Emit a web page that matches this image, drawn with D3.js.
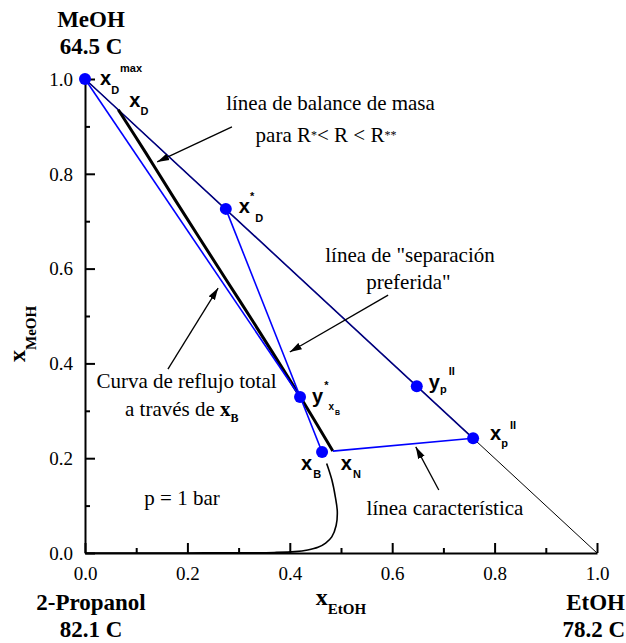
<!DOCTYPE html>
<html>
<head>
<meta charset="utf-8">
<script src="https://cdn.jsdelivr.net/npm/d3@7"></script>
<style>
  body { margin: 0; background: #fff; }
  svg { display: block; }
</style>
</head>
<body>
<svg id="chart" width="626" height="643"></svg>
<script>
// ---- axis ticks ----
const majorTicks = [0, 0.2, 0.4, 0.6, 0.8, 1.0];
const minorTicks = [0.1, 0.3, 0.5, 0.7, 0.9];
const tickLabels = ["0.0", "0.2", "0.4", "0.6", "0.8", "1.0"];

// ---- key compositions (x = x_EtOH, y = x_MeOH) ----
const pointNames = ["xDmax", "xD", "xDstar", "yxBstar", "xB", "xN", "ypII", "xpII"];
const pointX     = [0.000,   0.065, 0.275,   0.420,     0.463, 0.484, 0.648,  0.758];
const pointY     = [1.000,   0.935, 0.726,   0.329,     0.213, 0.215, 0.352,  0.242];
const dotNames   = ["xDmax", "xDstar", "yxBstar", "xB", "ypII", "xpII"];

// ---- straight segments between compositions ----
const navySegments = [["xDmax", "xpII"]];
const blueSegments = [["xDmax", "yxBstar"], ["xDstar", "xB"], ["xN", "xpII"]];

// ---- MeOH–EtOH edge of the triangle ----
const edgeX = [0, 1];
const edgeY = [1, 0];

// ---- total reflux curve through xB ----
const refluxX = [0.065, 0.120, 0.176, 0.276, 0.326, 0.420, 0.484];
const refluxY = [0.935, 0.842, 0.745, 0.576, 0.492, 0.330, 0.215];

// ---- residue curve running into the 2-Propanol corner ----
const residueX = [0.472, 0.482, 0.489, 0.4928, 0.4905, 0.482, 0.470, 0.455, 0.435, 0.410, 0.370, 0.300, 0.200, 0.100, 0.000];
const residueY = [0.189, 0.155, 0.118, 0.087, 0.058, 0.034, 0.021, 0.012, 0.0065, 0.003, 0.0012, 0.0004, 0.0001, 0.0, 0.0];

// ---- pure components ----
const vertexNames = ["MeOH", "2-Propanol", "EtOH"];
const vertexTemps = ["64.5 C", "82.1 C", "78.2 C"];

// ---- annotation arrows: [x0, y0, x1, y1] in composition units ----
const arrowBalance    = [0.287, 0.899, 0.141, 0.825];
const arrowPreferred  = [0.592, 0.544, 0.400, 0.424];
const arrowReflux     = [0.162, 0.388, 0.260, 0.559];
const arrowCharacter  = [0.691, 0.133, 0.646, 0.224];

// ---------------------------------------------------------------
const svg = d3.select("#chart");
const x = d3.scaleLinear().domain([0, 1]).range([85, 597]);
const y = d3.scaleLinear().domain([0, 1]).range([553, 79]);

const SERIF = "'Liberation Serif', 'Times New Roman', Times, serif";
const SANS = "'Liberation Sans', Arial, Helvetica, sans-serif";
const BLUE = "#0000ff";
const NAVY = "#000080";

const P = {};
pointNames.forEach((n, i) => { P[n] = [pointX[i], pointY[i]]; });

svg.append("defs").append("marker")
  .attr("id", "head")
  .attr("markerUnits", "userSpaceOnUse")
  .attr("viewBox", "0 -4 12 8")
  .attr("refX", 12).attr("refY", 0)
  .attr("markerWidth", 12).attr("markerHeight", 8)
  .attr("orient", "auto")
  .append("path").attr("d", "M0,-3.6L12,0L0,3.6Z").attr("fill", "#000");

// ---- axes ----
const fmt = d => tickLabels[majorTicks.indexOf(d)];

const yAxis = svg.append("g").attr("transform", `translate(${x(0)},0)`)
  .call(d3.axisLeft(y).tickValues(majorTicks).tickFormat(fmt)
    .tickSizeInner(-10).tickSizeOuter(0).tickPadding(12));
const yMinor = svg.append("g").attr("transform", `translate(${x(0)},0)`)
  .call(d3.axisLeft(y).tickValues(minorTicks).tickFormat("")
    .tickSizeInner(-5).tickSizeOuter(0));

const xAxis = svg.append("g").attr("transform", `translate(0,${y(0)})`)
  .call(d3.axisBottom(x).tickValues(majorTicks).tickFormat(fmt)
    .tickSizeInner(-10).tickSizeOuter(0).tickPadding(14));
const xMinor = svg.append("g").attr("transform", `translate(0,${y(0)})`)
  .call(d3.axisBottom(x).tickValues(minorTicks).tickFormat("")
    .tickSizeInner(-5).tickSizeOuter(0));

[yAxis, yMinor, xAxis, xMinor].forEach(g => {
  g.attr("font-family", null).attr("font-size", null);
  g.select(".domain").attr("stroke", "#000").attr("stroke-width", 2);
  g.selectAll(".tick line").attr("stroke", "#000").attr("stroke-width", 2);
  g.selectAll(".tick text").attr("fill", "#000")
    .style("font-family", SERIF).style("font-size", "19px");
});
yMinor.select(".domain").remove();
xMinor.select(".domain").remove();
yAxis.selectAll(".tick text").attr("dy", "0.33em");
xAxis.selectAll(".tick text").attr("dy", "0.71em");

// ---- axis titles ----
const xTitle = svg.append("text")
  .attr("x", x(0.5)).attr("y", 605).attr("text-anchor", "middle")
  .style("font-family", SERIF).style("font-weight", "bold");
xTitle.append("tspan").style("font-size", "24px").text("x");
xTitle.append("tspan").style("font-size", "15px").attr("dy", 9).text("EtOH");

const yTitle = svg.append("text")
  .attr("transform", "translate(25,362) rotate(-90)")
  .style("font-family", SERIF).style("font-weight", "bold");
yTitle.append("tspan").style("font-size", "24px").text("x");
yTitle.append("tspan").style("font-size", "15px").attr("dy", 11).text("MeOH");

// ---- line marks ----
const zip = (a, b) => a.map((v, i) => [v, b[i]]);
const straight = d3.line().x(d => x(d[0])).y(d => y(d[1]));
const smooth = d3.line().x(d => x(d[0])).y(d => y(d[1])).curve(d3.curveCatmullRom);

svg.append("path").datum(zip(edgeX, edgeY)).attr("d", straight)
  .attr("fill", "none").attr("stroke", "#000").attr("stroke-width", 1);

svg.append("path").datum(zip(residueX, residueY)).attr("d", smooth)
  .attr("fill", "none").attr("stroke", "#000").attr("stroke-width", 1.6);

navySegments.forEach(s => {
  svg.append("path").datum(s.map(n => P[n])).attr("d", straight)
    .attr("fill", "none").attr("stroke", NAVY).attr("stroke-width", 1.6);
});

svg.append("path").datum(zip(refluxX, refluxY)).attr("d", smooth)
  .attr("fill", "none").attr("stroke", "#000").attr("stroke-width", 3);

blueSegments.forEach(s => {
  svg.append("path").datum(s.map(n => P[n])).attr("d", straight)
    .attr("fill", "none").attr("stroke", BLUE).attr("stroke-width", 1.6);
});

// ---- composition dots ----
svg.append("g").selectAll("circle").data(dotNames).join("circle")
  .attr("cx", n => x(P[n][0])).attr("cy", n => y(P[n][1]))
  .attr("r", 6).attr("fill", BLUE);

// ---- composition labels: main glyph, then sub/superscripts ----
const pointLabels = {
  xDmax:   { dx: 15,  dy: 6,   parts: [["x", 20, 0, 0], ["D", 11, 9, 0], ["max", 11, -22, 1]] },
  xD:      { dx: 11,  dy: -3,  parts: [["x", 20, 0, 0], ["D", 11, 8, 0]] },
  xDstar:  { dx: 13,  dy: 4,   parts: [["x", 20, 0, 0], ["*", 11, -13, 0], ["D", 11, 22, 1]] },
  yxBstar: { dx: 12,  dy: 6,   parts: [["y", 20, 0, 0], ["*", 11, -14, 1], ["x", 10, 21, 0], ["B", 7, 5, 1]] },
  xB:      { dx: -21, dy: 18,  parts: [["x", 20, 0, 0], ["B", 11, 8, 1]] },
  xN:      { dx: 8,   dy: 19,  parts: [["x", 20, 0, 0], ["N", 11, 8, 1]] },
  ypII:    { dx: 12,  dy: 3,   parts: [["y", 20, 0, 0], ["p", 11, 4, 0], ["II", 11, -18, 2]] },
  xpII:    { dx: 17,  dy: 1.5, parts: [["x", 20, 0, 0], ["p", 11, 7, 0], ["II", 11, -18, 2]] }
};
Object.entries(pointLabels).forEach(([n, spec]) => {
  const t = svg.append("text")
    .attr("x", x(P[n][0]) + spec.dx).attr("y", y(P[n][1]) + spec.dy)
    .style("font-family", SANS).style("font-weight", "bold").attr("fill", "#000");
  spec.parts.forEach(([txt, size, dy, dx]) => {
    t.append("tspan").style("font-size", size + "px").attr("dy", dy).attr("dx", dx).text(txt);
  });
});

// ---- arrows ----
[arrowBalance, arrowPreferred, arrowReflux, arrowCharacter].forEach(a => {
  svg.append("line")
    .attr("x1", x(a[0])).attr("y1", y(a[1]))
    .attr("x2", x(a[2])).attr("y2", y(a[3]))
    .attr("stroke", "#000").attr("stroke-width", 1.3)
    .attr("marker-end", "url(#head)");
});

// ---- annotation texts ----
function note(px, py, anchor) {
  return svg.append("text").attr("x", x(px)).attr("y", y(py))
    .attr("text-anchor", anchor)
    .style("font-family", SERIF).style("font-size", "21px").attr("fill", "#000");
}
note(0.4795, 0.9346, "middle").text("línea de balance de masa");
const t1b = note(0.4707, 0.8671, "middle");
t1b.append("tspan").text("para R");
t1b.append("tspan").style("font-size", "12px").attr("dy", -3).text("*");
t1b.append("tspan").attr("dy", 3).text("< R < R");
t1b.append("tspan").style("font-size", "12px").attr("dy", -3).text("**");

note(0.6348, 0.6139, "middle").text("línea de \"separación");
note(0.6318, 0.5570, "middle").text("preferida\"");

note(0.1982, 0.3481, "middle").text("Curva de reflujo total");
const t3b = note(0.0781, 0.2890, "start");
t3b.append("tspan").text("a través de ");
t3b.append("tspan").style("font-weight", "bold").text("x");
t3b.append("tspan").style("font-weight", "bold").style("font-size", "12px").attr("dy", 6).text("B");

note(0.1895, 0.1013, "middle").text("p = 1 bar");
note(0.7031, 0.0802, "middle").text("línea característica");

// ---- pure component names and boiling points ----
const vertexPos = [
  { x: x(0) + 6,  y: y(1) - 52, anchor: "middle" },
  { x: x(0) + 6,  y: y(0) + 57, anchor: "middle" },
  { x: 625,       y: y(0) + 57, anchor: "end" }
];
vertexNames.forEach((name, i) => {
  const v = vertexPos[i];
  const t = svg.append("text").attr("x", v.x).attr("y", v.y).attr("text-anchor", v.anchor)
    .style("font-family", SERIF).style("font-weight", "bold").style("font-size", "23px");
  t.append("tspan").attr("x", v.x).text(name);
  t.append("tspan").attr("x", v.x).attr("dy", 27).text(vertexTemps[i]);
});
</script>
</body>
</html>
